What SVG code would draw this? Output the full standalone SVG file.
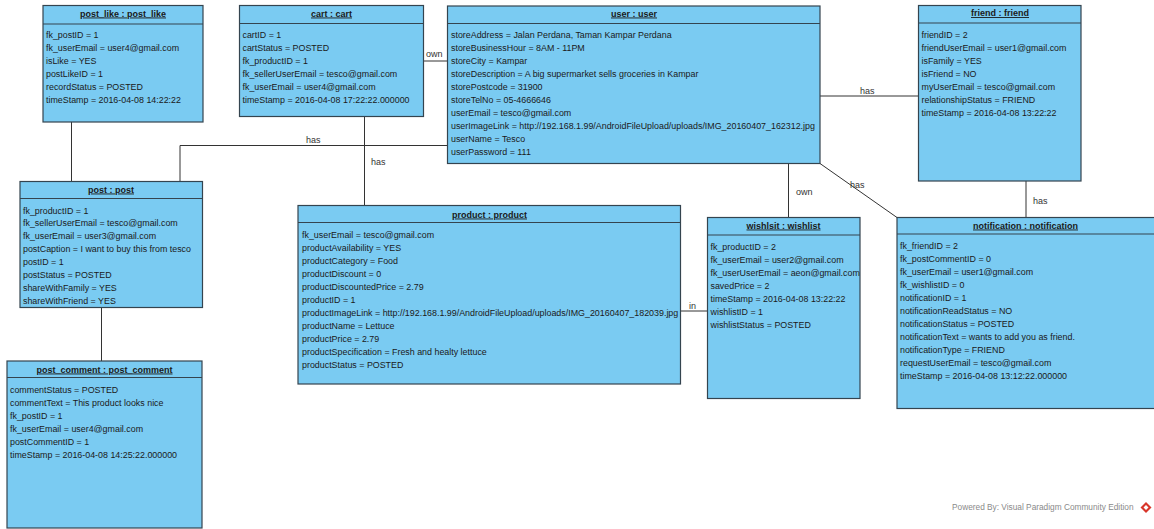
<svg xmlns="http://www.w3.org/2000/svg" width="1154" height="529" viewBox="0 0 1154 529">
<style>
.box{fill:#7acbf2;stroke:#34444f;stroke-width:1.2}
.sep{stroke:#34444f;stroke-width:1.2}
.title{font-family:"Liberation Sans",Arial,sans-serif;font-size:9px;font-weight:bold;text-decoration:underline;fill:#1a1a1a;text-anchor:middle}
.attr{font-family:"Liberation Sans",Arial,sans-serif;font-size:8.9px;fill:#1a1a1a}
.conn{fill:none;stroke:#333;stroke-width:1}
.lbl{font-family:"Liberation Sans",Arial,sans-serif;font-size:9px;fill:#333}
.wm{font-family:"Liberation Sans",Arial,sans-serif;font-size:8.3px;fill:#8a8a8a}
</style>
<rect width="1154" height="529" fill="#fff"/>
<g id="connectors">
<line class="conn" x1="71.5" y1="122" x2="71.5" y2="181.5"/>
<line class="conn" x1="364.5" y1="116.5" x2="364.5" y2="205.5"/>
<text class="lbl" x="371" y="165">has</text>
<line class="conn" x1="423.5" y1="61" x2="447.5" y2="61"/>
<text class="lbl" x="426" y="57">own</text>
<polyline class="conn" points="180,181.5 180,145.5 447.5,145.5"/>
<text class="lbl" x="306" y="143">has</text>
<line class="conn" x1="820" y1="96" x2="918.5" y2="96"/>
<text class="lbl" x="860" y="94">has</text>
<line class="conn" x1="788.5" y1="163.5" x2="788.5" y2="217.5"/>
<text class="lbl" x="796" y="195">own</text>
<line class="conn" x1="820" y1="163.5" x2="897" y2="217.5"/>
<text class="lbl" x="850" y="188">has</text>
<line class="conn" x1="1026" y1="181" x2="1026" y2="217.5"/>
<text class="lbl" x="1033" y="204">has</text>
<line class="conn" x1="680.5" y1="311" x2="707.5" y2="311"/>
<text class="lbl" x="689" y="309">in</text>
<line class="conn" x1="101.5" y1="307.5" x2="101.5" y2="361"/>
</g>
<g id="post_like">
<rect class="box" x="43" y="5.5" width="160" height="116.5"/>
<line class="sep" x1="43" y1="24" x2="203" y2="24"/>
<text class="title" x="123" y="16.5">post_like : post_like</text>
<text class="attr" x="46" y="37.5">fk_postID = 1</text>
<text class="attr" x="46" y="50.5">fk_userEmail = user4@gmail.com</text>
<text class="attr" x="46" y="63.5">isLike = YES</text>
<text class="attr" x="46" y="76.5">postLikeID = 1</text>
<text class="attr" x="46" y="89.5">recordStatus = POSTED</text>
<text class="attr" x="46" y="102.5">timeStamp = 2016-04-08 14:22:22</text>
</g>
<g id="cart">
<rect class="box" x="239.5" y="5.5" width="184" height="111"/>
<line class="sep" x1="239.5" y1="23.5" x2="423.5" y2="23.5"/>
<text class="title" x="331.5" y="16.5">cart : cart</text>
<text class="attr" x="242.5" y="37.5">cartID = 1</text>
<text class="attr" x="242.5" y="50.5">cartStatus = POSTED</text>
<text class="attr" x="242.5" y="63.5">fk_productID = 1</text>
<text class="attr" x="242.5" y="76.5">fk_sellerUserEmail = tesco@gmail.com</text>
<text class="attr" x="242.5" y="89.5">fk_userEmail = user4@gmail.com</text>
<text class="attr" x="242.5" y="102.5">timeStamp = 2016-04-08 17:22:22.000000</text>
</g>
<g id="user">
<rect class="box" x="447.5" y="6" width="372.5" height="157.5"/>
<line class="sep" x1="447.5" y1="23.5" x2="820" y2="23.5"/>
<text class="title" x="634" y="16.5">user : user</text>
<text class="attr" x="451" y="37.5">storeAddress = Jalan Perdana, Taman Kampar Perdana</text>
<text class="attr" x="451" y="50.5">storeBusinessHour = 8AM - 11PM</text>
<text class="attr" x="451" y="63.5">storeCity = Kampar</text>
<text class="attr" x="451" y="76.5">storeDescription = A big supermarket sells groceries in Kampar</text>
<text class="attr" x="451" y="89.5">storePostcode = 31900</text>
<text class="attr" x="451" y="102.5">storeTelNo = 05-4666646</text>
<text class="attr" x="451" y="115.5">userEmail = tesco@gmail.com</text>
<text class="attr" x="451" y="128.5">userImageLink = http://192.168.1.99/AndroidFileUpload/uploads/IMG_20160407_162312.jpg</text>
<text class="attr" x="451" y="141.5">userName = Tesco</text>
<text class="attr" x="451" y="154.5">userPassword = 111</text>
</g>
<g id="friend">
<rect class="box" x="918.5" y="5.5" width="162.5" height="175.5"/>
<line class="sep" x1="918.5" y1="23" x2="1081" y2="23"/>
<text class="title" x="1000" y="16">friend : friend</text>
<text class="attr" x="921.5" y="37.5">friendID = 2</text>
<text class="attr" x="921.5" y="50.5">friendUserEmail = user1@gmail.com</text>
<text class="attr" x="921.5" y="63.5">isFamily = YES</text>
<text class="attr" x="921.5" y="76.5">isFriend = NO</text>
<text class="attr" x="921.5" y="89.5">myUserEmail = tesco@gmail.com</text>
<text class="attr" x="921.5" y="102.5">relationshipStatus = FRIEND</text>
<text class="attr" x="921.5" y="115.5">timeStamp = 2016-04-08 13:22:22</text>
</g>
<g id="post">
<rect class="box" x="20" y="181.5" width="182.5" height="126"/>
<line class="sep" x1="20" y1="198.5" x2="202.5" y2="198.5"/>
<text class="title" x="111" y="192.5">post : post</text>
<text class="attr" x="23" y="213.5">fk_productID = 1</text>
<text class="attr" x="23" y="226.4">fk_sellerUserEmail = tesco@gmail.com</text>
<text class="attr" x="23" y="239.3">fk_userEmail = user3@gmail.com</text>
<text class="attr" x="23" y="252.2">postCaption = I want to buy this from tesco</text>
<text class="attr" x="23" y="265.1">postID = 1</text>
<text class="attr" x="23" y="278">postStatus = POSTED</text>
<text class="attr" x="23" y="290.9">shareWithFamily = YES</text>
<text class="attr" x="23" y="303.8">shareWithFriend = YES</text>
</g>
<g id="product">
<rect class="box" x="298" y="205.5" width="382.5" height="178.5"/>
<line class="sep" x1="298" y1="222.5" x2="680.5" y2="222.5"/>
<text class="title" x="489.5" y="217.5">product : product</text>
<text class="attr" x="302" y="237.5">fk_userEmail = tesco@gmail.com</text>
<text class="attr" x="302" y="250.5">productAvailability = YES</text>
<text class="attr" x="302" y="263.5">productCategory = Food</text>
<text class="attr" x="302" y="276.5">productDiscount = 0</text>
<text class="attr" x="302" y="289.5">productDiscountedPrice = 2.79</text>
<text class="attr" x="302" y="302.5">productID = 1</text>
<text class="attr" x="302" y="315.5">productImageLink = http://192.168.1.99/AndroidFileUpload/uploads/IMG_20160407_182039.jpg</text>
<text class="attr" x="302" y="328.5">productName = Lettuce</text>
<text class="attr" x="302" y="341.5">productPrice = 2.79</text>
<text class="attr" x="302" y="354.5">productSpecification = Fresh and healty lettuce</text>
<text class="attr" x="302" y="367.5">productStatus = POSTED</text>
</g>
<g id="wishlist">
<rect class="box" x="707.5" y="217.5" width="152.5" height="181"/>
<line class="sep" x1="707.5" y1="235" x2="860" y2="235"/>
<text class="title" x="783.5" y="228.5">wishlsit : wishlist</text>
<text class="attr" x="710.5" y="249.5">fk_productID = 2</text>
<text class="attr" x="710.5" y="262.5">fk_userEmail = user2@gmail.com</text>
<text class="attr" x="710.5" y="275.5">fk_userUserEmail = aeon@gmail.com</text>
<text class="attr" x="710.5" y="288.5">savedPrice = 2</text>
<text class="attr" x="710.5" y="301.5">timeStamp = 2016-04-08 13:22:22</text>
<text class="attr" x="710.5" y="314.5">wishlistID = 1</text>
<text class="attr" x="710.5" y="327.5">wishlistStatus = POSTED</text>
</g>
<g id="notification">
<rect class="box" x="897" y="217.5" width="258" height="191"/>
<line class="sep" x1="897" y1="234" x2="1155" y2="234"/>
<text class="title" x="1025.5" y="228.5">notification : notification</text>
<text class="attr" x="900" y="249">fk_friendID = 2</text>
<text class="attr" x="900" y="262">fk_postCommentID = 0</text>
<text class="attr" x="900" y="275">fk_userEmail = user1@gmail.com</text>
<text class="attr" x="900" y="288">fk_wishlistID = 0</text>
<text class="attr" x="900" y="301">notificationID = 1</text>
<text class="attr" x="900" y="314">notificationReadStatus = NO</text>
<text class="attr" x="900" y="327">notificationStatus = POSTED</text>
<text class="attr" x="900" y="340">notificationText = wants to add you as friend.</text>
<text class="attr" x="900" y="353">notificationType = FRIEND</text>
<text class="attr" x="900" y="366">requestUserEmail = tesco@gmail.com</text>
<text class="attr" x="900" y="379">timeStamp = 2016-04-08 13:12:22.000000</text>
</g>
<g id="post_comment">
<rect class="box" x="7" y="361" width="195" height="167"/>
<line class="sep" x1="7" y1="377.5" x2="202" y2="377.5"/>
<text class="title" x="104.5" y="372.5">post_comment : post_comment</text>
<text class="attr" x="10" y="393">commentStatus = POSTED</text>
<text class="attr" x="10" y="406">commentText = This product looks nice</text>
<text class="attr" x="10" y="419">fk_postID = 1</text>
<text class="attr" x="10" y="432">fk_userEmail = user4@gmail.com</text>
<text class="attr" x="10" y="445">postCommentID = 1</text>
<text class="attr" x="10" y="458">timeStamp = 2016-04-08 14:25:22.000000</text>
</g>
<g id="watermark">
<text class="wm" x="952" y="510">Powered By: Visual Paradigm Community Edition</text>
<path d="M1146 502 L1151.5 507.5 L1146 513 L1140.5 507.5 Z" fill="#d8362b"/>
<path d="M1146 505 L1148.5 507.5 L1146 510 L1143.5 507.5 Z" fill="#fff"/>
</g>
</svg>
